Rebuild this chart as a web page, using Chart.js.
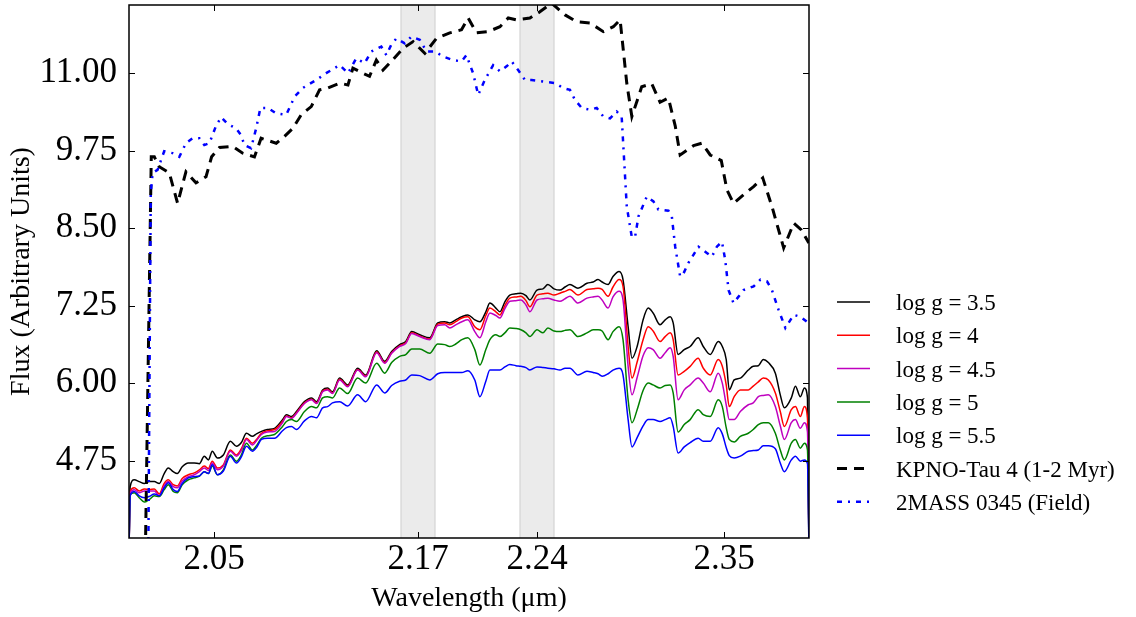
<!DOCTYPE html>
<html>
<head>
<meta charset="utf-8">
<script src="https://cdn.jsdelivr.net/npm/chart.js@4"></script>
<style>
html,body{margin:0;padding:0;background:#fff;}
#wrap{width:1136px;height:617px;position:relative;}
</style>
</head>
<body>
<div id="wrap"><canvas id="c" width="1136" height="617"></canvas></div>
<script>
// ---------- data ----------
const modelWave = [2.0000,2.0007,2.0031,2.0060,2.0090,2.0119,2.0149,2.0178,2.0207,2.0231,2.0260,2.0284,2.0313,2.0349,2.0384,2.0414,2.0443,2.0467,2.0490,2.0520,2.0555,2.0596,2.0632,2.0661,2.0691,2.0726,2.0750,2.0779,2.0814,2.0856,2.0903,
 2.0926,2.0956,2.0985,2.1032,2.1074,2.1103,2.1139,2.1168,2.1197,2.1239,2.1286,2.1345,2.1392,2.1457,2.1504,2.1545,2.1592,2.1628,2.1663,2.1710,2.1769,2.1816,
 2.1857,2.1887,2.1922,2.1958,2.1993,2.2034,2.2064,2.2099,2.2123,2.2158,2.2182,2.2211,2.2240,2.2276,2.2305,2.2335,2.2358,2.2400,2.2435,2.2464,2.2500,2.2535,2.2565,2.2594,2.2641,2.2694,2.2730,2.2759,2.2783,2.2818,2.2847,2.2883,
 2.2906,2.2936,2.2959,2.2989,2.3024,2.3054,2.3083,2.3124,2.3154,2.3183,2.3201,2.3230,2.3266,2.3301,2.3348,2.3378,2.3419,2.3466,2.3490,2.3513,2.3531,2.3560,2.3596,2.3643,2.3672,2.3702,2.3731,2.3761,2.3802,2.3831,2.3855,2.3896,2.3920,2.3949,2.3973,2.3991,2.4000];

const logg35 = [3.3,4.33,4.44,4.41,4.38,4.41,4.41,4.38,4.54,4.63,4.57,4.54,4.65,4.71,4.71,4.70,4.82,4.76,4.90,4.79,4.84,5.06,4.98,5.04,5.19,5.14,5.18,5.22,5.25,5.27,5.41,
 5.49,5.46,5.54,5.70,5.76,5.70,5.89,5.92,5.86,6.08,5.97,6.24,6.13,6.52,6.35,6.51,6.62,6.67,6.83,6.78,6.73,6.97,
 6.99,6.97,7.02,7.07,7.10,7.02,6.99,7.15,7.29,7.21,7.15,7.31,7.42,7.44,7.45,7.41,7.34,7.50,7.52,7.59,7.52,7.50,7.55,7.59,7.53,7.61,7.63,7.67,7.63,7.59,7.72,7.80,
 7.67,6.91,6.40,6.59,7.02,7.21,7.13,6.94,7.02,7.07,6.97,6.46,6.54,6.59,6.73,6.59,6.46,6.67,6.59,6.38,5.89,6.05,6.08,6.21,6.27,6.28,6.38,6.33,6.16,5.81,5.60,5.76,5.95,5.78,5.92,5.76,3.3];

const logg40 = [3.3,4.25,4.31,4.26,4.29,4.28,4.29,4.21,4.38,4.44,4.36,4.34,4.46,4.52,4.55,4.60,4.66,4.62,4.74,4.63,4.68,4.92,4.84,4.94,5.11,5.03,5.09,5.19,5.23,5.25,5.38,
 5.47,5.44,5.52,5.68,5.74,5.68,5.87,5.90,5.84,6.06,5.95,6.22,6.11,6.50,6.33,6.49,6.60,6.65,6.81,6.76,6.71,6.95,
 6.97,6.94,6.99,7.05,7.07,6.91,6.86,7.09,7.21,7.15,7.10,7.25,7.37,7.39,7.40,7.33,7.23,7.42,7.44,7.45,7.42,7.45,7.48,7.51,7.42,7.51,7.52,7.53,7.51,7.40,7.55,7.67,
 7.56,6.59,6.08,6.34,6.70,6.91,6.84,6.67,6.75,6.81,6.70,6.13,6.19,6.27,6.40,6.24,6.13,6.38,6.27,5.97,5.62,5.78,5.89,5.89,5.95,6.02,6.08,6.05,5.84,5.54,5.30,5.57,5.62,5.46,5.62,5.44,3.3];

const logg45 = [3.3,4.23,4.28,4.23,4.26,4.26,4.26,4.18,4.34,4.41,4.33,4.31,4.42,4.49,4.52,4.57,4.63,4.59,4.71,4.60,4.66,4.90,4.82,4.91,5.09,5.00,5.07,5.17,5.21,5.22,5.36,
 5.46,5.43,5.51,5.67,5.73,5.67,5.86,5.89,5.83,6.05,5.94,6.21,6.10,6.49,6.32,6.48,6.59,6.64,6.80,6.75,6.70,6.93,
 6.94,6.89,6.94,6.99,7.02,6.83,6.73,6.99,7.13,7.09,7.05,7.20,7.32,7.33,7.34,7.26,7.15,7.34,7.36,7.37,7.34,7.32,7.36,7.40,7.29,7.37,7.39,7.40,7.34,7.21,7.39,7.48,
 7.34,6.27,5.81,6.09,6.44,6.57,6.54,6.40,6.49,6.57,6.43,5.73,5.89,5.97,6.08,6.00,5.86,6.16,6.00,5.65,5.41,5.41,5.54,5.65,5.68,5.78,5.80,5.81,5.62,5.31,5.09,5.36,5.41,5.27,5.36,5.21,3.3];

const logg50 = [3.3,4.20,4.23,4.15,4.08,4.12,4.18,4.17,4.28,4.36,4.25,4.23,4.36,4.44,4.47,4.50,4.57,4.54,4.66,4.52,4.60,4.84,4.74,4.84,5.03,4.92,4.99,5.11,5.15,5.17,5.30,
 5.38,5.41,5.38,5.54,5.62,5.60,5.76,5.78,5.76,5.92,5.83,6.08,6.00,6.32,6.16,6.33,6.43,6.46,6.55,6.55,6.48,6.63,
 6.62,6.59,6.63,6.70,6.73,6.54,6.29,6.54,6.70,6.78,6.75,6.81,6.89,6.88,6.86,6.81,6.75,6.86,6.81,6.89,6.84,6.83,6.85,6.86,6.75,6.81,6.86,6.86,6.84,6.70,6.83,6.91,
 6.70,5.73,5.36,5.57,5.88,6.00,5.97,5.92,5.96,5.97,5.84,5.21,5.33,5.41,5.57,5.49,5.46,5.73,5.62,5.28,5.09,5.05,5.14,5.19,5.25,5.33,5.36,5.36,5.19,4.92,4.76,5.03,5.09,4.95,5.03,4.92,3.3];

const logg55 = [3.3,4.18,4.25,4.18,4.15,4.17,4.21,4.18,4.31,4.39,4.28,4.25,4.38,4.47,4.49,4.50,4.57,4.54,4.68,4.52,4.58,4.82,4.71,4.81,4.98,4.90,4.96,5.09,5.11,5.11,5.23,
 5.28,5.30,5.25,5.39,5.46,5.44,5.60,5.62,5.68,5.70,5.63,5.81,5.70,5.97,5.84,5.96,6.03,6.05,6.13,6.12,6.05,6.15,
 6.17,6.17,6.17,6.17,6.20,6.05,5.78,6.03,6.21,6.21,6.21,6.26,6.30,6.28,6.27,6.25,6.21,6.26,6.25,6.24,6.23,6.21,6.24,6.24,6.13,6.19,6.17,6.15,6.11,6.15,6.21,6.24,
 6.13,5.41,4.97,5.12,5.31,5.41,5.41,5.38,5.41,5.44,5.30,4.87,4.97,5.04,5.11,5.06,5.06,5.28,5.18,4.96,4.83,4.79,4.82,4.90,4.91,4.92,4.99,4.99,4.94,4.71,4.57,4.76,4.82,4.74,4.76,4.70,3.3];

const kpnoWave = [2.0095,2.0131,2.0149,2.0178,2.0237,2.0286,2.0335,2.0394,2.0453,2.0486,2.0532,2.0610,2.0669,2.0738,2.0777,2.0866,2.0915,2.0964,2.1013,2.1072,2.1121,2.1170,2.1239,2.1288,2.1317,2.1376,2.1415,2.1455,2.1494,2.1543,2.1612,2.1671,2.1740,2.1808,2.1887,2.1956,2.1995,2.2044,2.2113,2.2182,2.2231,2.2280,2.2358,2.2417,2.2486,2.2565,2.2633,2.2712,2.2790,2.2849,2.2889,2.2928,2.2958,2.3016,2.3075,2.3124,2.3173,2.3213,2.3242,2.3321,2.3370,2.3419,2.3484,2.3517,2.3556,2.3615,2.3674,2.3728,2.3784,2.3851,2.3910,2.3955,2.3999];
const kpnoFlux = [3.0,9.65,9.65,9.49,9.39,8.90,9.41,9.23,9.33,9.65,9.80,9.82,9.71,9.65,9.95,9.87,9.98,10.11,10.33,10.46,10.73,10.76,10.84,10.81,11.08,11.00,10.95,11.21,11.05,11.19,11.40,11.51,11.32,11.56,11.65,11.70,11.89,11.65,11.67,11.75,11.89,11.86,11.89,11.99,12.13,11.94,11.83,11.81,11.67,11.75,11.86,10.84,10.30,10.78,10.83,10.53,10.60,10.15,9.68,9.83,9.87,9.68,9.59,9.12,8.90,9.04,9.17,9.31,8.83,8.18,8.58,8.47,8.26];

const m0345Wave = [2.0113,2.0128,2.0139,2.0168,2.0207,2.0256,2.0296,2.0335,2.0374,2.0414,2.0443,2.0473,2.0512,2.0542,2.0580,2.0630,2.0659,2.0679,2.0718,2.0748,2.0773,2.0816,2.0866,2.0925,2.0974,2.1022,2.1101,2.1160,2.1239,2.1288,2.1337,2.1386,2.1425,2.1484,2.1514,2.1543,2.1573,2.1622,2.1661,2.1710,2.1750,2.1799,2.1847,2.1906,2.1956,2.1985,2.2024,2.2054,2.2093,2.2142,2.2182,2.2221,2.2251,2.2289,2.2329,2.2368,2.2447,2.2506,2.2554,2.2594,2.2623,2.2663,2.2712,2.2751,2.2790,2.2830,2.2869,2.2898,2.2928,2.2958,2.2977,2.2997,2.3046,2.3085,2.3114,2.3173,2.3193,2.3213,2.3242,2.3262,2.3291,2.3350,2.3399,2.3429,2.3458,2.3488,2.3507,2.3527,2.3556,2.3615,2.3674,2.3714,2.3753,2.3782,2.3821,2.3861,2.3910,2.3949,2.3996];
const m0345Flux = [3.0,9.07,9.39,9.44,9.74,9.71,9.65,9.87,9.95,9.95,9.84,9.87,10.15,10.29,10.18,10.11,10.00,9.84,9.79,10.11,10.44,10.44,10.35,10.33,10.62,10.76,10.89,11.00,11.13,11.00,11.24,11.16,11.35,11.43,11.29,11.46,11.56,11.48,11.59,11.54,11.35,11.35,11.27,11.21,11.19,11.29,11.00,10.65,10.89,11.13,11.03,11.11,11.19,11.05,10.89,10.89,10.86,10.84,10.76,10.73,10.57,10.44,10.41,10.44,10.30,10.27,10.38,10.30,8.85,8.35,8.36,8.69,9.01,8.93,8.80,8.78,8.69,8.20,7.72,7.77,7.94,8.20,8.10,8.04,8.20,8.28,7.99,7.50,7.29,7.50,7.56,7.67,7.64,7.50,7.18,6.89,7.10,7.07,6.97];

const seriesLabels = ['log g = 3.5','log g = 4','log g = 4.5','log g = 5','log g = 5.5','KPNO-Tau 4 (1-2 Myr)','2MASS 0345 (Field)'];
const xTicks = [2.05, 2.17, 2.24, 2.35];
const yTicks = [4.75, 6.00, 7.25, 8.50, 9.75, 11.00];
const bands = [[2.16, 2.18], [2.23, 2.25]];

// ---------- chart ----------
const FONT = '"Liberation Serif", "Times New Roman", serif';
const pts = (xs, ys) => xs.map((w, i) => ({x: w, y: ys[i]}));
const smooth = {cubicInterpolationMode: 'monotone'};

const datasets = [
  {label: seriesLabels[0], data: pts(modelWave, logg35), borderColor: '#000000', borderWidth: 1.5, order: 7, ...smooth},
  {label: seriesLabels[1], data: pts(modelWave, logg40), borderColor: '#ff0000', borderWidth: 1.5, order: 6, ...smooth},
  {label: seriesLabels[2], data: pts(modelWave, logg45), borderColor: '#bf00bf', borderWidth: 1.5, order: 5, ...smooth},
  {label: seriesLabels[3], data: pts(modelWave, logg50), borderColor: '#008000', borderWidth: 1.5, order: 4, ...smooth},
  {label: seriesLabels[4], data: pts(modelWave, logg55), borderColor: '#0000ff', borderWidth: 1.5, order: 3, ...smooth},
  {label: seriesLabels[5], data: pts(kpnoWave, kpnoFlux), borderColor: '#000000', borderWidth: 3, borderDash: [10, 7], order: 2},
  {label: seriesLabels[6], data: pts(m0345Wave, m0345Flux), borderColor: '#0000ff', borderWidth: 2.5, borderDash: [5, 6, 2, 6], order: 1}
];

const bandPlugin = {
  id: 'bands',
  beforeDatasetsDraw(chart) {
    const {ctx, chartArea: a, scales: {x}} = chart;
    ctx.save();
    bands.forEach(([lo, hi]) => {
      const x0 = x.getPixelForValue(lo), x1 = x.getPixelForValue(hi);
      ctx.fillStyle = '#ebebeb';
      ctx.fillRect(x0, a.top, x1 - x0, a.bottom - a.top);
      ctx.strokeStyle = '#d4d4d4';
      ctx.lineWidth = 1.2;
      [x0, x1].forEach(p => { ctx.beginPath(); ctx.moveTo(p, a.top); ctx.lineTo(p, a.bottom); ctx.stroke(); });
    });
    ctx.restore();
  }
};

const framePlugin = {
  id: 'frame',
  afterDatasetsDraw(chart) {
    const {ctx, chartArea: a, scales: {x, y}} = chart;
    const TL = 6;
    ctx.save();
    ctx.strokeStyle = '#000';
    ctx.lineWidth = 1;
    ctx.beginPath();
    xTicks.forEach(v => {
      const p = Math.round(x.getPixelForValue(v)) + 0.5;
      ctx.moveTo(p, a.bottom); ctx.lineTo(p, a.bottom - TL);
      ctx.moveTo(p, a.top); ctx.lineTo(p, a.top + TL);
    });
    yTicks.forEach(v => {
      const p = Math.round(y.getPixelForValue(v)) + 0.5;
      ctx.moveTo(a.left, p); ctx.lineTo(a.left + TL, p);
      ctx.moveTo(a.right, p); ctx.lineTo(a.right - TL, p);
    });
    ctx.stroke();
    ctx.lineWidth = 1.5;
    ctx.strokeRect(a.left, a.top, a.right - a.left, a.bottom - a.top);
    ctx.restore();
  }
};

const legendPlugin = {
  id: 'sideLegend',
  afterDraw(chart) {
    const {ctx, chartArea: a} = chart;
    ctx.save();
    ctx.font = '23px ' + FONT;
    ctx.textBaseline = 'alphabetic';
    ctx.textAlign = 'left';
    chart.data.datasets.forEach((ds, i) => {
      const ly = 302 + i * 33.3;
      const x0 = a.right + 28;
      ctx.strokeStyle = ds.borderColor;
      ctx.lineWidth = ds.borderWidth;
      ctx.setLineDash(ds.borderDash || []);
      ctx.beginPath(); ctx.moveTo(x0, ly); ctx.lineTo(x0 + 33, ly); ctx.stroke();
      ctx.setLineDash([]);
      ctx.fillStyle = '#000';
      ctx.fillText(ds.label, x0 + 59, ly + 8);
    });
    ctx.restore();
  }
};

const noPad = s => { s.paddingTop = 0; s.paddingBottom = 0; s.paddingLeft = 0; s.paddingRight = 0; };

new Chart(document.getElementById('c'), {
  type: 'line',
  data: {datasets},
  options: {
    responsive: false,
    animation: false,
    devicePixelRatio: 1,
    layout: {padding: {left: 0, right: 327, top: 5, bottom: 0}},
    plugins: {legend: {display: false}, tooltip: {enabled: false}},
    elements: {point: {radius: 0}, line: {tension: 0, fill: false}},
    scales: {
      x: {
        type: 'linear', min: 2.0, max: 2.4,
        afterBuildTicks: s => { s.ticks = xTicks.map(v => ({value: v})); },
        afterFit: s => { s.height = 79; noPad(s); },
        grid: {display: false, drawTicks: false},
        border: {display: false},
        ticks: {color: '#000', font: {family: FONT, size: 35}, padding: 1, maxRotation: 0, autoSkip: false,
                callback: v => Number(v).toFixed(2)},
        title: {display: true, text: 'Wavelength (μm)', color: '#000', font: {family: FONT, size: 28},
                padding: {top: 0, bottom: 2}}
      },
      y: {
        type: 'linear', min: 3.5, max: 12.1,
        afterBuildTicks: s => { s.ticks = yTicks.map(v => ({value: v})); },
        afterFit: s => { s.width = 129; noPad(s); },
        grid: {display: false, drawTicks: false},
        border: {display: false},
        ticks: {color: '#000', font: {family: FONT, size: 35}, padding: 12,
                callback: v => Number(v).toFixed(2)},
        title: {display: true, text: 'Flux (Arbitrary Units)', color: '#000', font: {family: FONT, size: 28},
                padding: {top: 5, bottom: 0}}
      }
    }
  },
  plugins: [bandPlugin, framePlugin, legendPlugin]
});
</script>
</body>
</html>
